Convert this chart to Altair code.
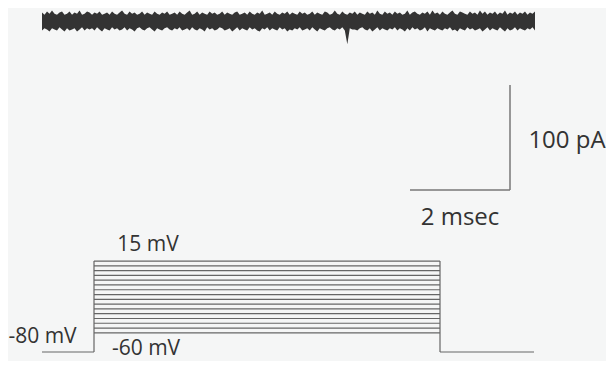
import altair as alt
import pandas as pd
import numpy as np

# ---------------- data ----------------
# noisy current trace: upper / lower envelope (pA, relative to baseline), sampled every 0.05 ms
trace_upper = [
    8, 6, 9, 7, 10, 7, 6, 8, 9, 6, 7, 9, 6, 8, 7, 10, 6, 7, 9, 8,
    6, 8, 7, 9, 6, 7, 8, 6, 9, 7, 6, 8, 10, 7, 6, 9, 7, 8, 6, 7,
    9, 6, 8, 7, 6, 9, 7, 6, 8, 7, 9, 6, 7, 8, 6, 9, 7, 6, 8, 10,
    6, 7, 9, 6, 8, 7, 6, 9, 7, 8, 6, 7, 9, 6, 8, 7, 6, 8, 9, 6,
    7, 8, 6, 9, 7, 6, 8, 7, 10, 6, 7, 8, 6, 9, 7, 6, 8, 7, 9, 6,
    8, 7, 6, 9, 7, 8, 6, 7, 9, 6, 8, 7, 6, 9, 8, 6, 7, 10, 7, 6,
    9, 7, 6, 8, 7, 9, 6, 8, 7, 6, 9, 7, 8, 6, 10, 7, 6, 9, 7, 8,
    6, 9, 7, 8, 6, 7, 10, 6, 8, 9, 7, 6, 8, 7, 9, 6, 10, 7, 8, 6,
    9, 7, 6, 8, 10, 7, 6, 9, 8, 7, 6, 9, 7, 8, 6, 10, 7, 9, 6, 8,
    7, 9, 6, 8, 7, 10, 6, 8, 7, 9, 6, 8, 7, 9, 6, 8, 7, 9,
]
trace_lower = [
    -9, -7, -8, -10, -7, -8, -9, -6, -8, -10, -7, -9, -8, -7, -10, -8, -6, -9, -7, -8,
    -7, -9, -6, -8, -10, -7, -8, -9, -6, -8, -7, -9, -8, -6, -9, -7, -8, -10, -7, -6,
    -8, -9, -7, -6, -8, -10, -7, -8, -9, -7, -6, -8, -9, -7, -8, -6, -9, -8, -7, -9,
    -6, -8, -9, -7, -8, -10, -6, -8, -7, -9, -8, -6, -7, -9, -8, -7, -10, -8, -6, -9,
    -7, -8, -9, -6, -8, -7, -9, -10, -7, -8, -6, -9, -7, -8, -9, -6, -8, -7, -10, -8,
    -9, -7, -8, -6, -9, -8, -7, -9, -6, -8, -10, -7, -8, -9, -7, -6, -8, -9, -7, -8,
    -6, -9, -22, -7, -8, -8, -9, -7, -6, -8, -9, -7, -10, -8, -6, -9, -7, -8, -9, -7,
    -8, -6, -9, -7, -8, -10, -7, -9, -6, -8, -7, -9, -8, -6, -10, -7, -8, -9, -7, -8,
    -9, -7, -8, -6, -9, -8, -10, -7, -8, -9, -6, -8, -7, -9, -8, -7, -10, -8, -6, -9,
    -7, -8, -9, -6, -8, -10, -7, -9, -8, -6, -9, -7, -8, -9, -7, -8, -6, -9,
]
trace_start_ms = 0.0
trace_end_ms = 9.86

# voltage protocol
step_levels_mv = [15, 10, 5, 0, -5, -10, -15, -20, -25, -30, -35, -40, -45, -50, -55, -60]
holding_mv = -80
step_on_ms = 1.04
step_off_ms = 7.96
protocol_start_ms = 0.0
protocol_end_ms = 9.84

# scale bar (2 msec / 100 pA)
scalebar_time_ms = [7.36, 9.36]
scalebar_current_pa = [-61, -161]

# labels
top_labels = ["100 pA", "2 msec"]
top_label_t = [10.5, 8.36]
top_label_y = [-114, -188]
bottom_labels = ["15 mV", "-80 mV", "-60 mV"]
bottom_label_t = [2.12, 0.01, 2.08]
bottom_label_y = [31.5, -64.5, -77.0]

# ---------------- chart ----------------
W = 598
X_DOMAIN = [-0.68, 11.28]
xs = alt.Scale(domain=X_DOMAIN)
ys_top = alt.Scale(domain=[-199, 12.4])
ys_bot = alt.Scale(domain=[-89.4, 47.4])
LINE = "#666666"
TXT = "#333333"
FONT = "Open Sans"

t = np.linspace(trace_start_ms, trace_end_ms, len(trace_upper))
trace_df = pd.DataFrame({"t": t, "hi": trace_upper, "lo": trace_lower})

trace = alt.Chart(trace_df).mark_area(color="#333333", interpolate="linear").encode(
    x=alt.X("t:Q", scale=xs, axis=None),
    y=alt.Y("hi:Q", scale=ys_top, axis=None),
    y2="lo:Q",
)

sb_df = pd.DataFrame({
    "x": [scalebar_time_ms[0], scalebar_time_ms[1]],
    "x2": [scalebar_time_ms[1], scalebar_time_ms[1]],
    "y": [scalebar_current_pa[1], scalebar_current_pa[0]],
    "y2": [scalebar_current_pa[1], scalebar_current_pa[1]],
})
scalebar = alt.Chart(sb_df).mark_rule(color="#777777", strokeWidth=1.5).encode(
    x=alt.X("x:Q", scale=xs, axis=None), x2="x2:Q",
    y=alt.Y("y:Q", scale=ys_top, axis=None), y2="y2:Q",
)

top_txt = alt.Chart(pd.DataFrame({"l": top_labels, "t": top_label_t, "y": top_label_y})).mark_text(
    font=FONT, fontSize=24, color=TXT, align="center", baseline="middle"
).encode(
    x=alt.X("t:Q", scale=xs, axis=None),
    y=alt.Y("y:Q", scale=ys_top, axis=None),
    text="l:N",
)

top = alt.layer(trace, scalebar, top_txt).properties(width=W, height=222)

# protocol segments
seg_x, seg_x2, seg_y, seg_y2 = [], [], [], []
for v in step_levels_mv:
    seg_x.append(step_on_ms); seg_x2.append(step_off_ms); seg_y.append(v); seg_y2.append(v)
top_level = max(step_levels_mv)
for tt in (step_on_ms, step_off_ms):
    seg_x.append(tt); seg_x2.append(tt); seg_y.append(holding_mv); seg_y2.append(top_level)
seg_x += [protocol_start_ms, step_off_ms]
seg_x2 += [step_on_ms, protocol_end_ms]
seg_y += [holding_mv, holding_mv]
seg_y2 += [holding_mv, holding_mv]
seg_df = pd.DataFrame({"x": seg_x, "x2": seg_x2, "y": seg_y, "y2": seg_y2})

protocol = alt.Chart(seg_df).mark_rule(color=LINE, strokeWidth=1.2).encode(
    x=alt.X("x:Q", scale=xs, axis=None), x2="x2:Q",
    y=alt.Y("y:Q", scale=ys_bot, axis=None), y2="y2:Q",
)

bot_txt = alt.Chart(pd.DataFrame({"l": bottom_labels, "t": bottom_label_t, "y": bottom_label_y})).mark_text(
    font=FONT, fontSize=21, color=TXT, align="center", baseline="middle"
).encode(
    x=alt.X("t:Q", scale=xs, axis=None),
    y=alt.Y("y:Q", scale=ys_bot, axis=None),
    text="l:N",
)

bottom = alt.layer(protocol, bot_txt).properties(width=W, height=131)

chart = alt.vconcat(top, bottom, spacing=0, bounds="flush").properties(
    padding=0, background="#f5f6f6"
).configure_view(stroke=None)

chart.save("out.html", embed_options={"renderer": "svg", "actions": False})
